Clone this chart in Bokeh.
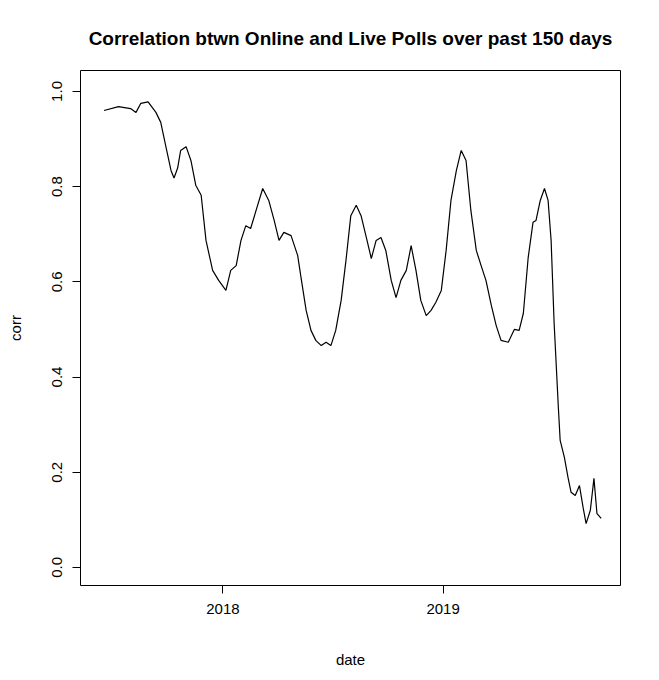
from datetime import datetime
import pandas as pd
from bokeh.plotting import figure
from bokeh.models import FixedTicker, DatetimeTickFormatter, Range1d, NumeralTickFormatter
from bokeh.embed import file_html
from bokeh.resources import INLINE

dates = ["2017-06-18","2017-07-12","2017-08-01","2017-08-10","2017-08-18","2017-08-30","2017-09-12","2017-09-20",
"2017-09-28","2017-10-07","2017-10-12","2017-10-18","2017-10-23","2017-11-01","2017-11-09","2017-11-17","2017-11-26",
"2017-12-04","2017-12-15","2017-12-25","2018-01-06","2018-01-14","2018-01-23","2018-01-31","2018-02-08","2018-02-16",
"2018-02-25","2018-03-08","2018-03-18","2018-03-27","2018-04-04","2018-04-12","2018-04-24","2018-05-05","2018-05-10",
"2018-05-19","2018-05-27","2018-06-04","2018-06-13","2018-06-21","2018-06-29","2018-07-07","2018-07-16","2018-07-24",
"2018-08-01","2018-08-10","2018-08-18","2018-08-26","2018-09-04","2018-09-12","2018-09-20","2018-09-28","2018-10-07",
"2018-10-15","2018-10-23","2018-11-01","2018-11-09","2018-11-17","2018-11-25","2018-12-04","2018-12-12","2018-12-20",
"2018-12-29","2019-01-06","2019-01-14","2019-01-23","2019-01-31","2019-02-08","2019-02-16","2019-02-25","2019-03-05",
"2019-03-13","2019-03-22","2019-03-30","2019-04-07","2019-04-19","2019-04-29","2019-05-07","2019-05-14","2019-05-22",
"2019-05-30","2019-06-04","2019-06-11","2019-06-18","2019-06-24","2019-06-29","2019-07-04","2019-07-11","2019-07-14",
"2019-07-21","2019-07-27","2019-08-01","2019-08-08","2019-08-15","2019-08-21","2019-08-26","2019-09-02","2019-09-08",
"2019-09-13","2019-09-20"]
corr = [.960,.968,.964,.956,.975,.978,.956,.935,.887,.834,.818,.839,.876,.884,.855,.803,.782,.687,.624,.603,
.582,.624,.634,.687,.718,.712,.750,.796,.771,.729,.687,.704,.697,.655,.613,.540,.498,.477,.466,.473,
.466,.498,.561,.645,.739,.761,.739,.697,.649,.687,.693,.666,.603,.567,.603,.624,.676,.624,.561,.529,
.540,.557,.582,.666,.771,.834,.876,.855,.750,.666,.634,.603,.550,.508,.477,.473,.500,.498,.534,.651,
.725,.729,.771,.796,.771,.687,.513,.336,.267,.231,.189,.158,.151,.172,.126,.092,.120,.187,.113,.103]
x_ticks = ["2018-01-01", "2019-01-01"]
y_ticks = [0.0, 0.2, 0.4, 0.6, 0.8, 1.0]

d = pd.to_datetime(dates)
FONT = "Liberation Sans"
p = figure(width=651, height=672, x_axis_type="datetime", output_backend="svg", toolbar_location=None,
           title="Correlation btwn Online and Live Polls over past 150 days",
           x_range=Range1d(datetime(2017, 5, 10), datetime(2019, 10, 22)),
           y_range=Range1d(-0.038, 1.044),
           min_border_left=80, min_border_right=31, min_border_top=70, min_border_bottom=87)
p.line(d, corr, line_color="black", line_width=1.2)
p.grid.visible = False
p.outline_line_color = "black"
p.outline_line_width = 1
p.title.text_font = FONT
p.title.text_font_size = "19px"
p.title.text_color = "black"
p.title.align = "center"
p.title.offset = 0
p.title.standoff = 44
tk = [pd.Timestamp(t).value / 1e6 for t in x_ticks]
p.xaxis.ticker = FixedTicker(ticks=tk)
p.xaxis.formatter = DatetimeTickFormatter(years="%Y", months="%Y", days="%Y", hours="%Y")
p.xaxis.bounds = (tk[0], tk[1])
p.yaxis.ticker = FixedTicker(ticks=y_ticks)
p.yaxis.formatter = NumeralTickFormatter(format="0.0")
p.yaxis.bounds = (0, 1)
p.yaxis.major_label_orientation = "vertical"
p.xaxis.axis_label = "date"
p.yaxis.axis_label = "corr"
for ax in (p.xaxis, p.yaxis):
    ax.minor_tick_line_color = None
    ax.major_tick_out = 8
    ax.major_tick_in = 0
    ax.major_label_text_font = FONT
    ax.major_label_text_font_size = "15px"
    ax.axis_label_text_font = FONT
    ax.axis_label_text_font_size = "15px"
    ax.axis_label_text_font_style = "normal"
    ax.axis_label_text_color = "black"
    ax.major_label_standoff = 10
    ax.axis_line_color = "black"
    ax.major_tick_line_color = "black"
    ax.major_label_text_color = "black"
p.xaxis.axis_label_standoff = 34
p.yaxis.axis_label_standoff = 26

open("out.html", "w").write(file_html(p, INLINE))
